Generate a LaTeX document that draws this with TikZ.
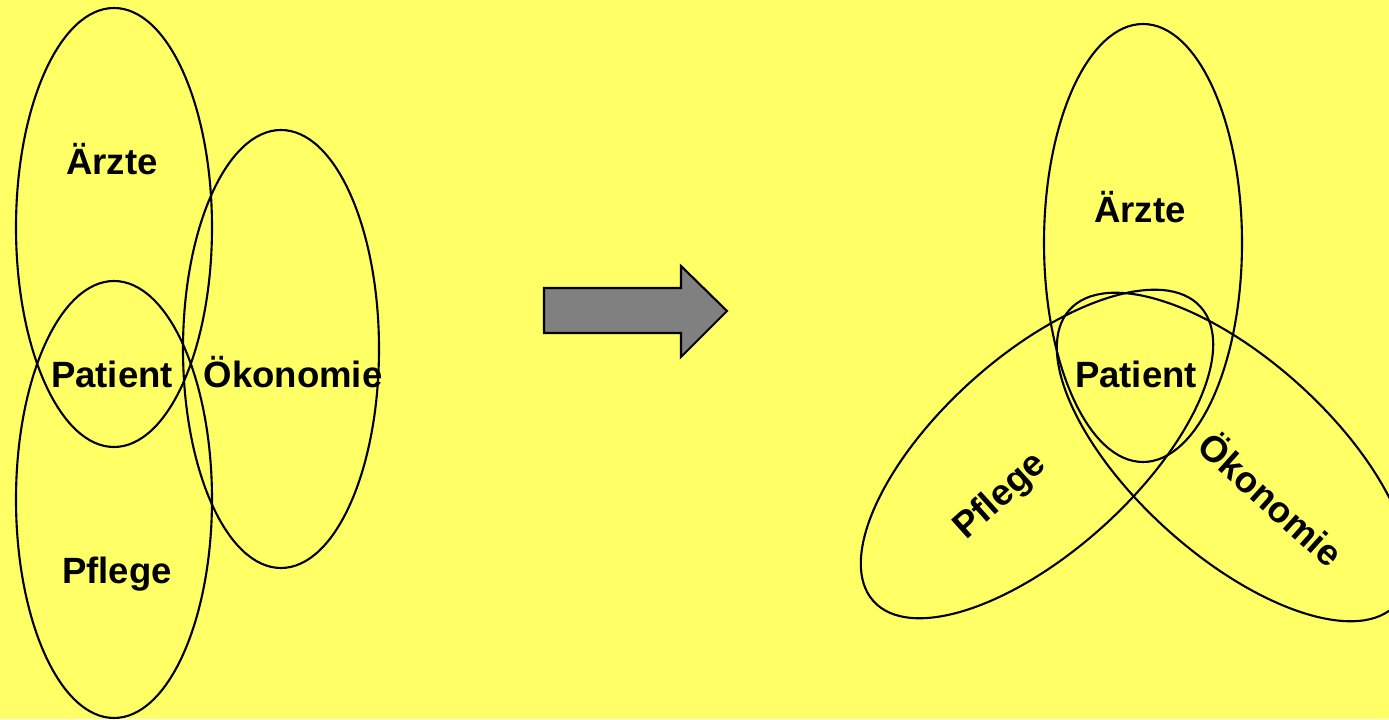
\documentclass[tikz,border=0pt]{standalone}
\usepackage{fontspec}
\setmainfont{Liberation Sans}
\usepackage{tikz}
\usetikzlibrary{positioning}
\usepackage{xcolor}
\definecolor{sheet}{RGB}{255,255,102}
\definecolor{arrowgray}{RGB}{128,128,128}

\begin{document}
\begin{tikzpicture}[ring/.style={draw=black,line width=0.6pt},
  lbl/.style={font=\fontsize{10.4}{12}\selectfont\bfseries,inner sep=0pt,anchor=base}]
\fill[sheet] (0,0) rectangle (13.89,7.19);
\useasboundingbox (0,0) rectangle (13.89,7.19);
\clip (0,0) rectangle (13.89,7.19);
% before
\draw[ring] (1.14,4.915) ellipse [x radius=0.98,y radius=2.195];
\draw[ring] (1.14,2.195) ellipse [x radius=0.98,y radius=2.185];
\draw[ring] (2.81,3.70) ellipse [x radius=0.98,y radius=2.19];
\node[lbl] (aerzteA) at (1.12,5.44) {Ärzte};
\node[lbl] (patientA) at (1.12,3.31) {Patient};
\node[lbl] (oekoA) at (2.93,3.31) {Ökonomie};
\node[lbl] (pflegeA) at (1.17,1.35) {Pflege};
% arrow
\draw[fill=arrowgray,line width=0.6pt,line join=miter]
  (5.44,4.31) -- (6.81,4.31) -- (6.81,4.53) -- (7.27,4.08)
  -- (6.81,3.62) -- (6.81,3.86) -- (5.44,3.86) -- cycle;
% after
\draw[ring] (11.43,4.76) ellipse [x radius=0.99,y radius=2.19];
\draw[ring,rotate around={42:(10.37,2.65)}] (10.37,2.65) ellipse [x radius=2.20,y radius=0.98];
\draw[ring,rotate around={-42:(12.33,2.62)}] (12.33,2.62) ellipse [x radius=2.20,y radius=0.98];
\node[lbl] (aerzteB) at (11.40,4.96) {Ärzte};
\node[lbl] (patientB) at (11.36,3.31) {Patient};
\node[lbl,anchor=center,rotate=42] (pflegeB) at (10.01,2.22) {Pflege};
\node[lbl,anchor=center,rotate=-42] (oekoB) at (12.72,2.21) {Ökonomie};
\end{tikzpicture}
\end{document}
